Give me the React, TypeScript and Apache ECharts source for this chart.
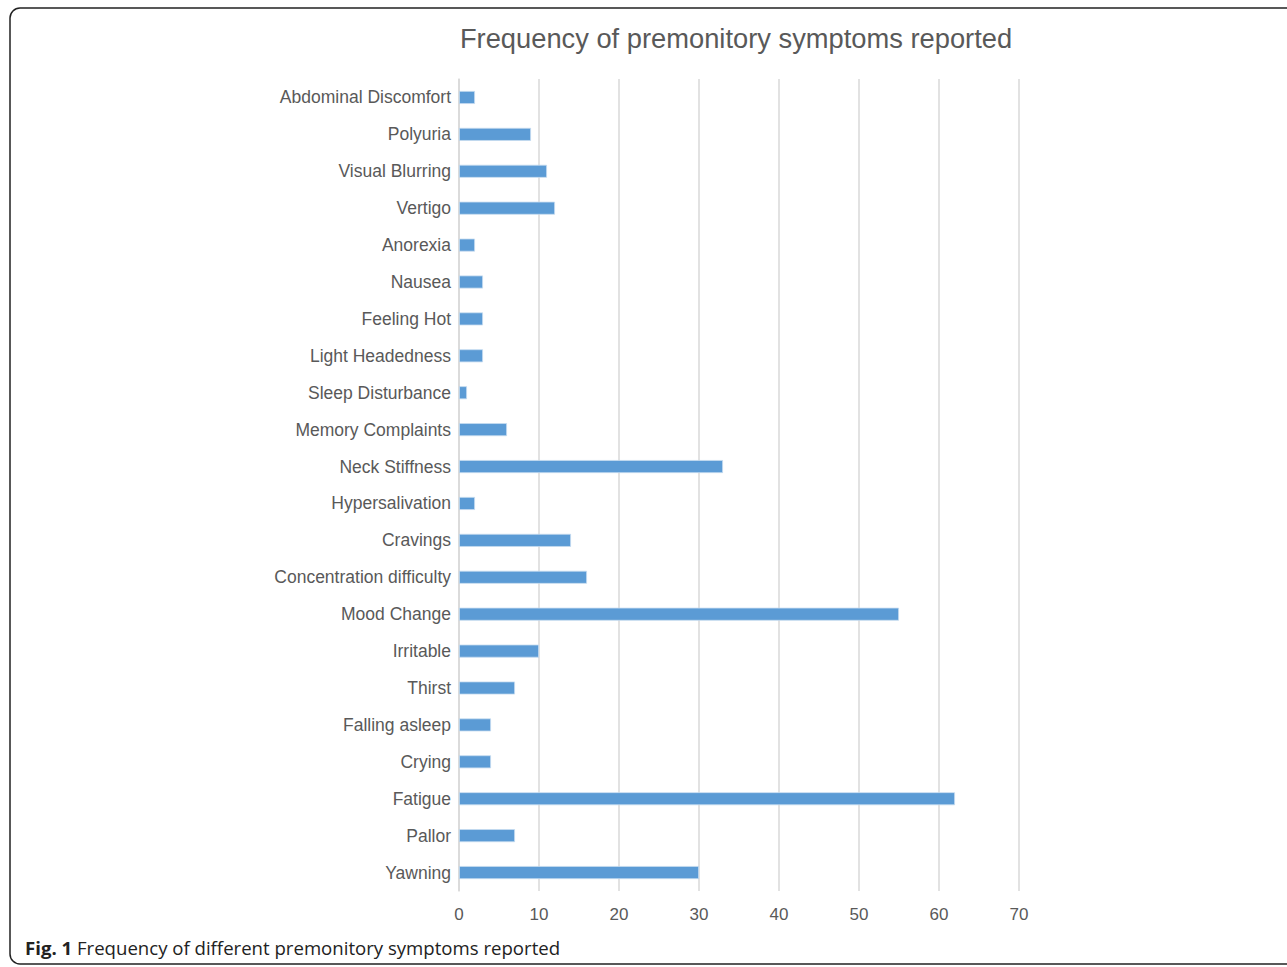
import React, { useEffect, useRef } from "react";
import * as echarts from "echarts";

const categories = [
  "Abdominal Discomfort", "Polyuria", "Visual Blurring", "Vertigo", "Anorexia", "Nausea",
  "Feeling Hot", "Light Headedness", "Sleep Disturbance", "Memory Complaints", "Neck Stiffness",
  "Hypersalivation", "Cravings", "Concentration difficulty", "Mood Change", "Irritable", "Thirst",
  "Falling asleep", "Crying", "Fatigue", "Pallor", "Yawning",
];
const values = [2, 9, 11, 12, 2, 3, 3, 3, 1, 6, 33, 2, 14, 16, 55, 10, 7, 4, 4, 62, 7, 30];
const xTicks = { min: 0, max: 70, interval: 10 };
const titleText = "Frequency of premonitory symptoms reported";
const captionBold = "Fig. 1";
const captionText = " Frequency of different premonitory symptoms reported";

const FONT = "'Liberation Sans', Arial, sans-serif";

export default function App() {
  const ref = useRef<HTMLDivElement>(null);
  useEffect(() => {
    document.body.style.margin = "0";
    const chart = echarts.init(ref.current!, null, { renderer: "svg" });
    chart.setOption({
      animation: false,
      backgroundColor: "#ffffff",
      title: {
        text: titleText,
        left: 731,
        top: 20,
        textAlign: "center",
        textStyle: { fontFamily: FONT, fontSize: 27.3, fontWeight: "normal", color: "#595959" },
      },
      grid: { left: 459, right: 1287 - 1019, top: 79, bottom: 967 - 891, containLabel: false },
      xAxis: {
        type: "value",
        min: xTicks.min,
        max: xTicks.max,
        interval: xTicks.interval,
        axisLine: { show: false },
        axisTick: { show: false },
        axisLabel: { color: "#595959", fontSize: 17, fontFamily: FONT, margin: 15 },
        splitLine: { show: true, lineStyle: { color: "#d9d9d9", width: 1.5 } },
      },
      yAxis: {
        type: "category",
        data: categories,
        inverse: true,
        axisLine: { show: true, lineStyle: { color: "#d9d9d9", width: 1.5 } },
        axisTick: { show: false },
        axisLabel: { color: "#595959", fontSize: 17.5, fontFamily: FONT, margin: 8 },
        splitLine: { show: false },
      },
      series: [
        {
          type: "bar",
          data: values,
          barWidth: 13,
          itemStyle: { color: "#5b9bd5", borderColor: "#c6dcf0", borderWidth: 0.8 },
        },
      ],
      graphic: [
        {
          type: "rect",
          shape: { x: 10, y: 8, width: 1320, height: 956, r: 10 },
          style: { fill: "none", stroke: "#222222", lineWidth: 1.5 },
          silent: true,
        },
        {
          type: "text",
          left: 25,
          top: 938,
          style: {
            text: "{b|" + captionBold + "}{n|" + captionText + "}",
            rich: {
              b: { fontFamily: "'Open Sans'", fontWeight: "bold", fontSize: 18.6, fill: "#222222" },
              n: { fontFamily: "'Open Sans'", fontSize: 18.6, fill: "#222222" },
            },
          },
        },
      ],
    });
    return () => chart.dispose();
  }, []);
  return <div ref={ref} style={{ position: "absolute", left: 0, top: 0, width: 1287, height: 967 }} />;
}
